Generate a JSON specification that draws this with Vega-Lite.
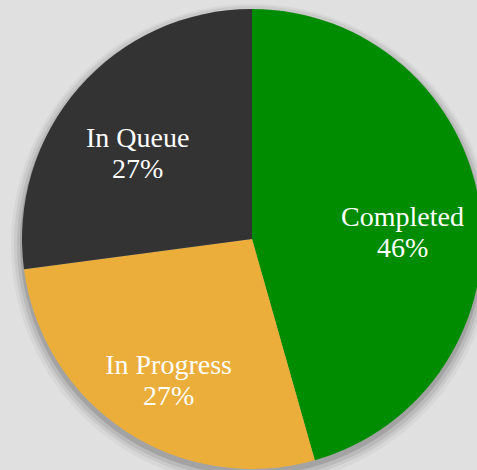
{
  "$schema": "https://vega.github.io/schema/vega-lite/v6.json",
  "width": 450,
  "height": 462,
  "autosize": {"type": "none"},
  "padding": {"left": 27, "top": 8, "right": 0, "bottom": 0},
  "background": "#e0e0e0",
  "view": {"stroke": null},
  "data": {
    "values": [
      {"status": "Completed", "share": 45.6, "label": "Completed\n46%", "rank": 1},
      {"status": "In Progress", "share": 27.3, "label": "In Progress\n27%", "rank": 2},
      {"status": "In Queue", "share": 27.1, "label": "In Queue\n27%", "rank": 3}
    ]
  },
  "encoding": {
    "theta": {"field": "share", "type": "quantitative", "stack": true},
    "order": {"field": "rank", "type": "quantitative"}
  },
  "layer": [
    {"mark": {"type": "arc", "radius": 241, "color": "#000000", "opacity": 0.04, "yOffset": 6}},
    {"mark": {"type": "arc", "radius": 238, "color": "#000000", "opacity": 0.06, "yOffset": 5}},
    {"mark": {"type": "arc", "radius": 235, "color": "#000000", "opacity": 0.08, "yOffset": 5}},
    {"mark": {"type": "arc", "radius": 232, "color": "#000000", "opacity": 0.12, "yOffset": 4}},
    {
      "mark": {"type": "arc", "radius": 230},
      "encoding": {
        "color": {
          "field": "status",
          "type": "nominal",
          "scale": {"domain": ["Completed", "In Progress", "In Queue"], "range": ["#008c00", "#ebae3b", "#333333"]},
          "legend": null
        }
      }
    },
    {
      "mark": {"type": "text", "radius": 152, "lineBreak": "\n", "font": "Liberation Serif", "fontSize": 28, "lineHeight": 31, "color": "#ffffff", "align": "center", "baseline": "middle"},
      "encoding": {"text": {"field": "label", "type": "nominal"}}
    }
  ]
}
